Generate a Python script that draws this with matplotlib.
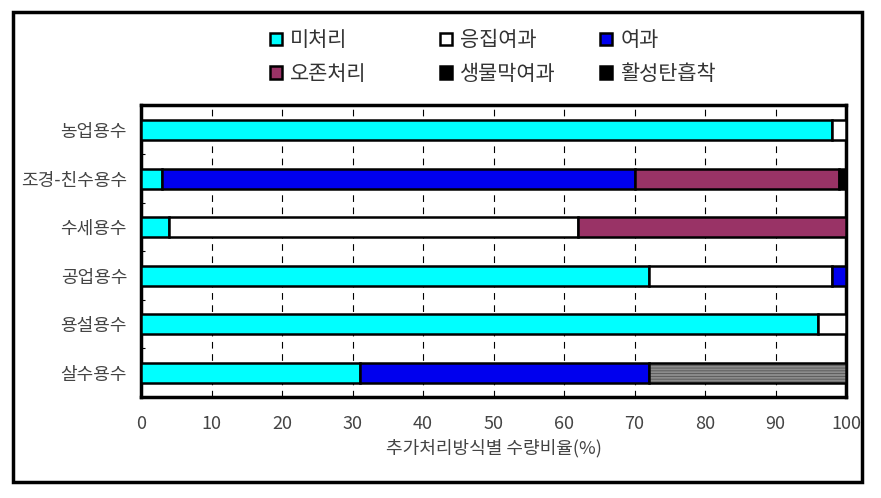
import numpy as np
import matplotlib.pyplot as plt
from matplotlib.patches import Patch, Rectangle

plt.rcParams['font.family'] = ['Noto Sans CJK KR', 'DejaVu Sans']
plt.rcParams['hatch.linewidth'] = 0.6

# categories, top to bottom
uses = ['농업용수', '조경-친수용수', '수세용수', '공업용수', '용설용수', '살수용수']

# share of water (%) by treatment method
raw = [98, 3, 4, 72, 96, 31]          # 미처리
coag = [2, 0, 58, 26, 4, 0]           # 응집여과
filt = [0, 67, 0, 2, 0, 41]           # 여과
ozone = [0, 29, 38, 0, 0, 0]          # 오존처리
biofilm = [0, 1, 0, 0, 0, 0]          # 생물막여과
carbon = [0, 0, 0, 0, 0, 28]          # 활성탄흡착

series = [
    ('미처리', raw, '#00FFFF', None),
    ('응집여과', coag, 'white', None),
    ('여과', filt, '#0000EE', None),
    ('오존처리', ozone, '#993366', None),
    ('생물막여과', biofilm, 'black', None),
    ('활성탄흡착', carbon, '#8c8c8c', '------'),
]
# legend swatches (both black-ish last entries shown solid black)
leg_cols = ['#00FFFF', 'white', '#0000EE', '#993366', 'black', 'black']

fig = plt.figure(figsize=(8.81, 4.98), dpi=100)
ax = fig.add_axes([141 / 881, 1 - 397 / 498, 705 / 881, 292 / 498])

ypos = np.arange(len(uses))[::-1]
left = np.zeros(len(uses))
for name, vals, col, hatch in series:
    vals = np.array(vals, dtype=float)
    m = vals > 0
    if hatch:
        ax.barh(ypos[m], vals[m], left=left[m], height=0.41, color=col,
                edgecolor='#555555', hatch=hatch, linewidth=0, zorder=3)
        ax.barh(ypos[m], vals[m], left=left[m], height=0.41, color='none',
                edgecolor='black', linewidth=1.8, zorder=4)
    else:
        ax.barh(ypos[m], vals[m], left=left[m], height=0.41, color=col,
                edgecolor='black', linewidth=1.8, zorder=3)
    left += vals

ax.set_xlim(0, 100)
ax.set_ylim(-0.5, 5.52)
ax.set_xticks(np.arange(0, 101, 10))
ax.set_yticks(ypos)
ax.set_yticklabels(uses)
ax.set_yticks(np.arange(0.5, 5, 1), minor=True)
ax.tick_params(axis='y', which='major', length=0, pad=10, labelsize=13, labelcolor='#444444')
ax.tick_params(axis='y', which='minor', direction='in', length=3, width=0.8)
ax.tick_params(axis='x', length=0, pad=13, labelsize=13, labelcolor='#444444')
ax.xaxis.grid(True, linestyle=(0, (6, 5)), color='black', linewidth=0.8, zorder=1)
ax.set_axisbelow(True)
for s in ax.spines.values():
    s.set_linewidth(2.5)
ax.set_xlabel('추가처리방식별 수량비율(%)', fontsize=13, color='#444444', labelpad=4)

# legend, three columns of two rows
names = [s[0] for s in series]
cols3 = [[0, 3], [1, 4], [2, 5]]
xs = [260 / 881, 430 / 881, 590 / 881]
for x, ks in zip(xs, cols3):
    hs = [Patch(facecolor=leg_cols[k], edgecolor='black', linewidth=1.8, label=names[k])
          for k in ks]
    fig.legend(handles=hs, loc='upper left', bbox_to_anchor=(x, 1 - 19 / 498),
               frameon=False, fontsize=15, handlelength=0.55, handleheight=0.55,
               handletextpad=0.4, labelspacing=0.55, borderpad=0, labelcolor='#333333')

fig.patches.append(Rectangle((13 / 881, 1 - 482 / 498), 849 / 881, 470 / 498,
                             transform=fig.transFigure, fill=False,
                             edgecolor='black', linewidth=2.5))

fig.savefig('out.png', dpi=100)
